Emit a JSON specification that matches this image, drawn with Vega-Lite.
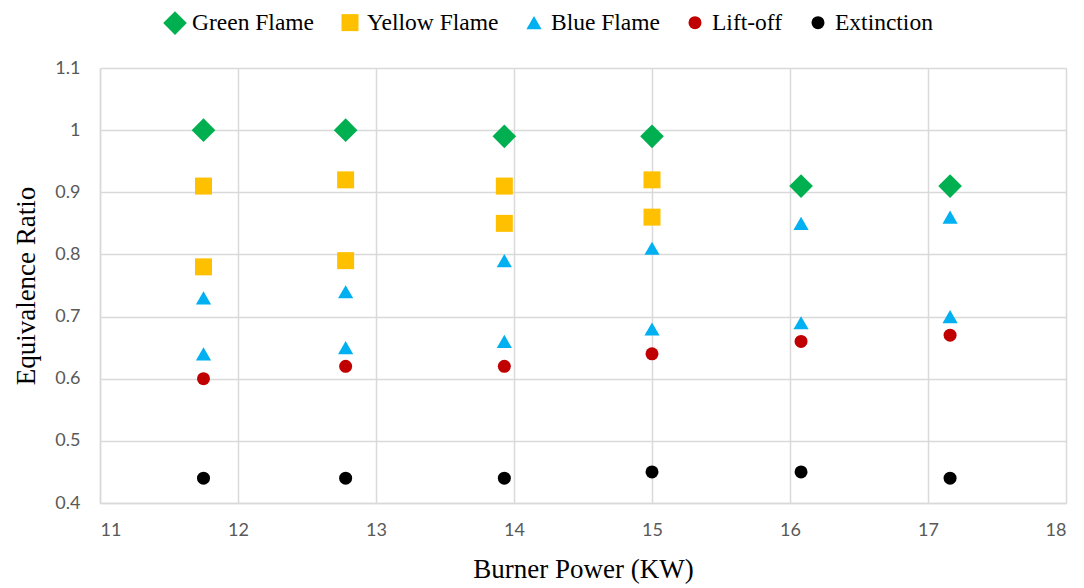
{
  "$schema": "https://vega.github.io/schema/vega-lite/v6.json",
  "width": 966,
  "height": 435,
  "autosize": {"type": "none"},
  "padding": {"left": 100, "top": 68, "right": 18, "bottom": 85},
  "background": "white",
  "data": {
    "values": [
      {"power": 11.75, "ratio": 1.00, "series": "Green Flame"},
      {"power": 12.78, "ratio": 1.00, "series": "Green Flame"},
      {"power": 13.93, "ratio": 0.99, "series": "Green Flame"},
      {"power": 15.00, "ratio": 0.99, "series": "Green Flame"},
      {"power": 16.08, "ratio": 0.91, "series": "Green Flame"},
      {"power": 17.16, "ratio": 0.91, "series": "Green Flame"},
      {"power": 11.75, "ratio": 0.91, "series": "Yellow Flame"},
      {"power": 11.75, "ratio": 0.78, "series": "Yellow Flame"},
      {"power": 12.78, "ratio": 0.92, "series": "Yellow Flame"},
      {"power": 12.78, "ratio": 0.79, "series": "Yellow Flame"},
      {"power": 13.93, "ratio": 0.91, "series": "Yellow Flame"},
      {"power": 13.93, "ratio": 0.85, "series": "Yellow Flame"},
      {"power": 15.00, "ratio": 0.92, "series": "Yellow Flame"},
      {"power": 15.00, "ratio": 0.86, "series": "Yellow Flame"},
      {"power": 11.75, "ratio": 0.73, "series": "Blue Flame"},
      {"power": 11.75, "ratio": 0.64, "series": "Blue Flame"},
      {"power": 12.78, "ratio": 0.74, "series": "Blue Flame"},
      {"power": 12.78, "ratio": 0.65, "series": "Blue Flame"},
      {"power": 13.93, "ratio": 0.79, "series": "Blue Flame"},
      {"power": 13.93, "ratio": 0.66, "series": "Blue Flame"},
      {"power": 15.00, "ratio": 0.81, "series": "Blue Flame"},
      {"power": 15.00, "ratio": 0.68, "series": "Blue Flame"},
      {"power": 16.08, "ratio": 0.85, "series": "Blue Flame"},
      {"power": 16.08, "ratio": 0.69, "series": "Blue Flame"},
      {"power": 17.16, "ratio": 0.86, "series": "Blue Flame"},
      {"power": 17.16, "ratio": 0.70, "series": "Blue Flame"},
      {"power": 11.75, "ratio": 0.60, "series": "Lift-off"},
      {"power": 12.78, "ratio": 0.62, "series": "Lift-off"},
      {"power": 13.93, "ratio": 0.62, "series": "Lift-off"},
      {"power": 15.00, "ratio": 0.64, "series": "Lift-off"},
      {"power": 16.08, "ratio": 0.66, "series": "Lift-off"},
      {"power": 17.16, "ratio": 0.67, "series": "Lift-off"},
      {"power": 11.75, "ratio": 0.44, "series": "Extinction"},
      {"power": 12.78, "ratio": 0.44, "series": "Extinction"},
      {"power": 13.93, "ratio": 0.44, "series": "Extinction"},
      {"power": 15.00, "ratio": 0.45, "series": "Extinction"},
      {"power": 16.08, "ratio": 0.45, "series": "Extinction"},
      {"power": 17.16, "ratio": 0.44, "series": "Extinction"}
    ]
  },
  "mark": {"type": "point", "filled": true, "opacity": 1},
  "encoding": {
    "x": {
      "field": "power", "type": "quantitative",
      "scale": {"domain": [11, 18], "nice": false, "zero": false},
      "axis": {"values": [11, 12, 13, 14, 15, 16, 17, 18], "title": "Burner Power (KW)"}
    },
    "y": {
      "field": "ratio", "type": "quantitative",
      "scale": {"domain": [0.4, 1.1], "nice": false, "zero": false},
      "axis": {"values": [0.4, 0.5, 0.6, 0.7, 0.8, 0.9, 1.0, 1.1], "format": ".1~f", "title": "Equivalence Ratio"}
    },
    "color": {
      "field": "series", "type": "nominal",
      "scale": {
        "domain": ["Green Flame", "Yellow Flame", "Blue Flame", "Lift-off", "Extinction"],
        "range": ["#00B050", "#FFC000", "#00B0F0", "#C00000", "#000000"]
      },
      "legend": {
        "title": null, "orient": "none", "direction": "horizontal", "columns": 5,
        "legendX": 62, "legendY": -58, "columnPadding": 22,
        "labelFont": "Liberation Serif", "labelFontSize": 23.5, "labelColor": "#000000",
        "symbolSize": 100, "labelOffset": 4
      }
    },
    "shape": {
      "field": "series", "type": "nominal",
      "scale": {
        "domain": ["Green Flame", "Yellow Flame", "Blue Flame", "Lift-off", "Extinction"],
        "range": ["diamond", "square", "triangle-up", "circle", "circle"]
      }
    },
    "size": {
      "field": "series", "type": "nominal",
      "scale": {
        "type": "ordinal",
        "domain": ["Green Flame", "Yellow Flame", "Blue Flame", "Lift-off", "Extinction"],
        "range": [560, 289, 230, 169, 169]
      },
      "legend": null
    }
  },
  "config": {
    "view": {"stroke": null},
    "axis": {
      "gridColor": "#d9d9d9", "gridWidth": 1.5,
      "domainColor": "#d9d9d9", "domainWidth": 1.5,
      "ticks": false,
      "labelFont": "Lato", "labelFontSize": 18, "labelColor": "#595959",
      "titleFont": "Liberation Serif", "titleFontSize": 27, "titleFontWeight": "normal", "titleColor": "#000000"
    },
    "axisX": {"labelPadding": 18, "titlePadding": 17},
    "axisY": {"labelPadding": 20, "titlePadding": 14}
  }
}
